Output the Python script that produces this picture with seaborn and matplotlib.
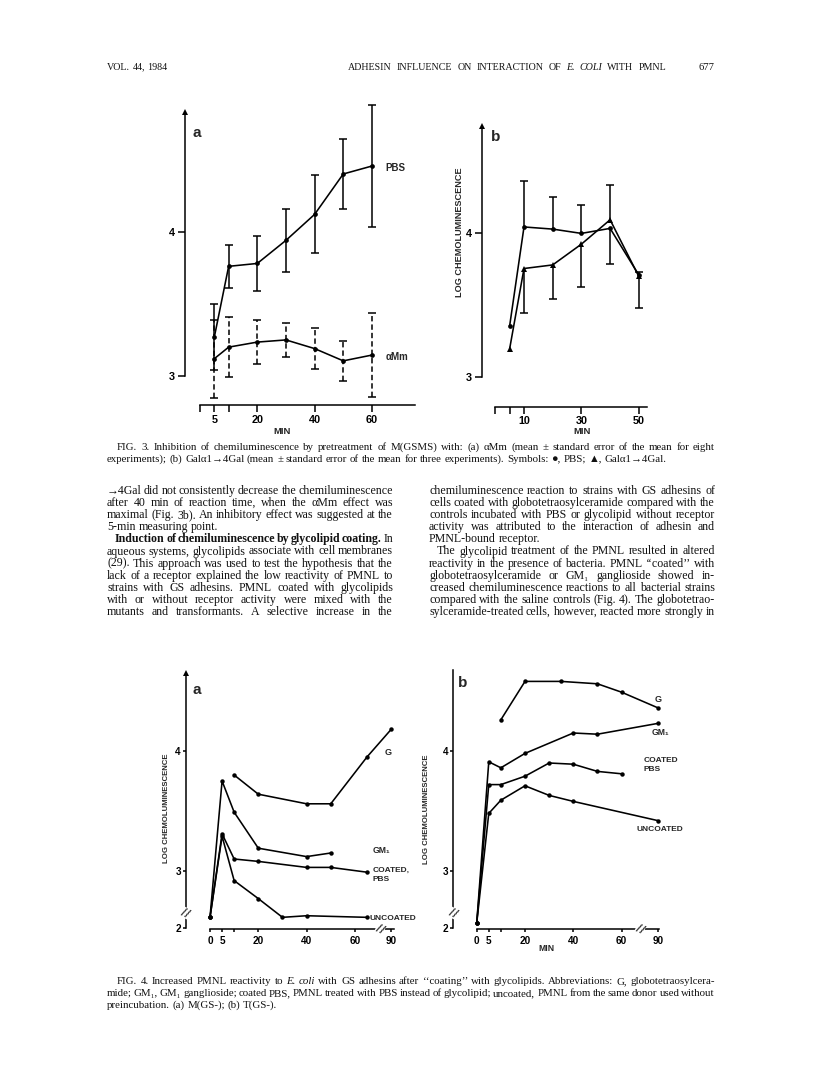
import numpy as np
import pandas as pd
import matplotlib
matplotlib.use("Agg")
import matplotlib.pyplot as plt
import seaborn as sns

# ------------------------------------------------------------------ data
# FIG. 3a  log chemiluminescence (mean +/- SEM), M(GSMS)
f3a_minutes = [5, 10, 20, 30, 40, 50, 60]
f3a_pbs = [3.27, 3.76, 3.78, 3.94, 4.12, 4.40, 4.455]
f3a_pbs_sem = [0.23, 0.15, 0.19, 0.22, 0.27, 0.245, 0.42]
f3a_amm = [3.12, 3.20, 3.235, 3.25, 3.19, 3.105, 3.145]
f3a_amm_sem = [0.27, 0.21, 0.15, 0.115, 0.14, 0.14, 0.29]

# FIG. 3b  (error drawn on one side only, as in the original)
f3b_minutes = [5, 10, 20, 30, 40, 50]
f3b_pbs = [3.355, 4.045, 4.03, 4.00, 4.035, 3.71]
f3b_pbs_err_low = [0, 0, 0, 0, 0.25, 0]
f3b_pbs_err_high = [0, 0.32, 0.225, 0.20, 0, 0.02]
f3b_gal = [3.195, 3.755, 3.78, 3.925, 4.095, 3.70]
f3b_gal_err_low = [0, 0.31, 0.235, 0.30, 0, 0.22]
f3b_gal_err_high = [0, 0, 0, 0, 0.24, 0]

# FIG. 4a  M(GS-)
f4a_g_min = [10, 20, 40, 50, 65, 90]
f4a_g = [3.80, 3.64, 3.56, 3.56, 3.95, 4.18]
f4a_gm1_min = [0, 5, 10, 20, 40, 50]
f4a_gm1 = [2.46, 3.75, 3.49, 3.19, 3.12, 3.15]
f4a_coated_min = [0, 5, 10, 20, 40, 50, 65]
f4a_coated = [2.46, 3.31, 3.10, 3.08, 3.03, 3.03, 2.99]
f4a_uncoated_min = [0, 5, 10, 20, 30, 40, 65]
f4a_uncoated = [2.46, 3.29, 2.92, 2.77, 2.46, 2.53, 2.46]

# FIG. 4b  T(GS-)
f4b_g_min = [10, 20, 35, 50, 60, 90]
f4b_g = [4.26, 4.58, 4.58, 4.56, 4.49, 4.36]
f4b_gm1_min = [0, 5, 10, 20, 40, 50, 90]
f4b_gm1 = [2.20, 3.91, 3.86, 3.98, 4.15, 4.14, 4.23]
f4b_coated_min = [0, 5, 10, 20, 30, 40, 50, 60]
f4b_coated = [2.20, 3.72, 3.72, 3.79, 3.90, 3.89, 3.83, 3.81]
f4b_uncoated_min = [0, 5, 10, 20, 30, 40, 90]
f4b_uncoated = [2.20, 3.48, 3.59, 3.71, 3.63, 3.58, 3.42]

# ticks
f3a_xticks = [0, 5, 10, 20, 40, 60]
f3a_xticklabels = ["", "5", "", "20", "40", "60"]
f3b_xticks = [0, 5, 10, 30, 50]
f3b_xticklabels = ["", "", "10", "30", "50"]
f3_yticks = [3, 4]
f4_xticks = [0, 5, 10, 20, 40, 60, 90]
f4_xticklabels = ["0", "5", "", "20", "40", "60", "90"]
f4_yticks = [2, 3, 4]

# ------------------------------------------------------------------ text
header_left = "VOL. 44, 1984"
header_title = "ADHESIN INFLUENCE ON INTERACTION OF ~E. ~COLI WITH PMNL"
header_page = "677"

fig3_caption = [
    "FIG. 3. Inhibition of chemiluminescence by pretreatment of M(GSMS) with: (a) \u03b1Mm (mean \u00b1 standard error of the mean for eight",
    "experiments); (b) Gal\u03b11\u21924Gal (mean \u00b1 standard error of the mean for three experiments). Symbols: \u25cf, PBS; \u25b2, Gal\u03b11\u21924Gal.",
]
left_col = [
    "\u21924Gal did not consistently decrease the chemiluminescence",
    "after 40 min of reaction time, when the \u03b1Mm effect was",
    "maximal (Fig. 3b). An inhibitory effect was suggested at the",
    "5-min measuring point.",
    "^Induction ^of ^chemiluminescence ^by ^glycolipid ^coating. In",
    "aqueous systems, glycolipids associate with cell membranes",
    "(29). This approach was used to test the hypothesis that the",
    "lack of a receptor explained the low reactivity of PMNL to",
    "strains with GS adhesins. PMNL coated with glycolipids",
    "with or without receptor activity were mixed with the",
    "mutants and transformants. A selective increase in the",
]
right_col = [
    "chemiluminescence reaction to strains with GS adhesins of",
    "cells coated with globotetraosylceramide compared with the",
    "controls incubated with PBS or glycolipid without receptor",
    "activity was attributed to the interaction of adhesin and",
    "PMNL-bound receptor.",
    "The glycolipid treatment of the PMNL resulted in altered",
    "reactivity in the presence of bacteria. PMNL \u2018\u2018coated\u2019\u2019 with",
    "globotetraosylceramide or GM\u2081 ganglioside showed in-",
    "creased chemiluminescence reactions to all bacterial strains",
    "compared with the saline controls (Fig. 4). The globotetrao-",
    "sylceramide-treated cells, however, reacted more strongly in",
]
fig4_caption = [
    "FIG. 4. Increased PMNL reactivity to ~E. ~coli with GS adhesins after \u2018\u2018coating\u2019\u2019 with glycolipids. Abbreviations: G, globotetraosylcera-",
    "mide; GM\u2081, GM\u2081 ganglioside; coated PBS, PMNL treated with PBS instead of glycolipid; uncoated, PMNL from the same donor used without",
    "preincubation. (a) M(GS-); (b) T(GS-).",
]

# ------------------------------------------------------------------ setup
W, H = 816, 1077
SANS = ["Liberation Sans", "DejaVu Sans"]
SERIF = ["Liberation Serif", "DejaVu Serif"]

sns.set_theme(style="ticks")
plt.rcParams["font.family"] = SERIF
plt.rcParams["axes.linewidth"] = 1.1

fig = plt.figure(figsize=(W / 100, H / 100), dpi=100)
fig.patch.set_facecolor("white")
renderer = fig.canvas.get_renderer()

# broken-axis scales for FIG. 4
Y_BRK, Y_K = 2.65, 0.19
X_BRK, X_K = 67.5, 1.0 / 3.0


def y_fwd(v):
    v = np.asarray(v, float)
    return np.where(v >= Y_BRK, v, Y_BRK - (Y_BRK - v) * Y_K)


def y_inv(d):
    d = np.asarray(d, float)
    return np.where(d >= Y_BRK, d, Y_BRK - (Y_BRK - d) / Y_K)


def x_fwd(v):
    v = np.asarray(v, float)
    return np.where(v <= X_BRK, v, X_BRK + (v - X_BRK) * X_K)


def x_inv(d):
    d = np.asarray(d, float)
    return np.where(d <= X_BRK, d, X_BRK + (d - X_BRK) / X_K)


def make_panel(L, R, T, B, x0_px, x_ppu, y3_px, y_ppu, xfun=None, yfun=None):
    ax = fig.add_axes([L / W, 1 - B / H, (R - L) / W, (B - T) / H])
    ax.patch.set_alpha(0)
    if xfun is not None:
        ax.set_xscale("function", functions=xfun)
    if yfun is not None:
        ax.set_yscale("function", functions=yfun)
    xi = xfun[1] if xfun is not None else (lambda v: np.asarray(v, float))
    yi = yfun[1] if yfun is not None else (lambda v: np.asarray(v, float))

    def px_x(px):
        return float(np.ravel(xi(np.array([(px - x0_px) / x_ppu])))[0])

    def px_y(py):
        return float(np.ravel(yi(np.array([3 + (y3_px - py) / y_ppu])))[0])

    lims = ((px_x(L), px_x(R)), (px_y(B), px_y(T)))
    return ax, px_x, px_y, lims


def draw_series(ax, xs, ys, marker="o", ms=3.4):
    df = pd.DataFrame({"minutes": xs, "value": ys})
    sns.lineplot(data=df, x="minutes", y="value", ax=ax, color="black",
                 linewidth=1.15, marker=marker, markersize=ms,
                 markeredgewidth=0, estimator=None, sort=False, errorbar=None)


def draw_err(ax, xs, ys, lo, hi, ls="-"):
    xs = np.asarray(xs, float)
    ys = np.asarray(ys, float)
    lo = np.asarray(lo, float)
    hi = np.asarray(hi, float)
    m = (lo > 0) | (hi > 0)
    ax.vlines(xs[m], (ys - lo)[m], (ys + hi)[m], colors="black",
              linewidth=1.1, linestyles=ls)
    for sel, yy in ((lo > 0, ys - lo), (hi > 0, ys + hi)):
        ax.plot(xs[sel], yy[sel], ls="none", marker="_", ms=5.5, mew=1.1,
                color="black", clip_on=False)


def style_axes(ax, lims, xspine_y, xbounds, yspine_x, ybounds, xticks, xlabels,
               yticks, ticklen, labsize=8, arrow=True, ypad=2):
    ax.set_xlabel("")
    ax.set_ylabel("")
    ax.set_xlim(*lims[0])
    ax.set_ylim(*lims[1])
    for s in ("top", "right"):
        ax.spines[s].set_visible(False)
    ax.spines["left"].set_position(("data", yspine_x))
    ax.spines["left"].set_bounds(*ybounds)
    ax.spines["bottom"].set_position(("data", xspine_y))
    ax.spines["bottom"].set_bounds(*xbounds)
    for s in ("left", "bottom"):
        ax.spines[s].set_linewidth(1.1)
        ax.spines[s].set_color("black")
    ax.set_xticks(xticks)
    ax.set_xticklabels(xlabels)
    ax.set_yticks(yticks)
    ax.set_yticklabels([str(t) for t in yticks])
    ax.minorticks_off()
    ax.tick_params(axis="both", direction="out", width=1.1, colors="black",
                   length=ticklen, pad=2, labelsize=labsize)
    ax.tick_params(axis="y", pad=ypad)
    for lbl in ax.get_xticklabels() + ax.get_yticklabels():
        lbl.set_fontfamily(SANS)
        lbl.set_fontweight("bold")
    if arrow:
        ax.plot([yspine_x], [ybounds[1]], marker="^", ms=5, color="black",
                mew=0, clip_on=False)


def ptext(x, y, s, size=7.0, ha="center", rot=0, weight="bold"):
    fig.text(x / W, 1 - y / H, s, ha=ha, va="center", fontsize=size,
             family=SANS, fontweight=weight, rotation=rot)


def brk(ax, x, y):
    ax.text(x, y, "//", ha="center", va="center", fontsize=8,
            family="DejaVu Sans", fontweight="bold", rotation=-25,
            bbox=dict(facecolor="white", edgecolor="none", pad=0.2),
            clip_on=False, zorder=5)


# ------------------------------------------------------------------ FIG 3a
ax, px_x, px_y, lims = make_panel(165, 430, 100, 415, 200, 2.865, 376, 144.3)
draw_err(ax, f3a_minutes, f3a_amm, f3a_amm_sem, f3a_amm_sem, ls=(0, (3.5, 2)))
draw_err(ax, f3a_minutes, f3a_pbs, f3a_pbs_sem, f3a_pbs_sem)
draw_series(ax, f3a_minutes, f3a_pbs)
draw_series(ax, f3a_minutes, f3a_amm)
style_axes(ax, lims, px_y(405), (0, px_x(415)), px_x(185), (3, px_y(112)),
           f3a_xticks, f3a_xticklabels, f3_yticks, 5, labsize=7.8)
ptext(196.7, 133, "a", size=11)
ptext(385, 168.3, "PBS", ha="left", size=7)
ptext(386, 356.7, "\u03b1Mm", ha="left", size=7)
ptext(281.7, 431.7, "MIN", size=6.8)

# ------------------------------------------------------------------ FIG 3b
ax, px_x, px_y, lims = make_panel(470, 665, 115, 415, 495.3, 2.87, 376.7, 143.3)
draw_err(ax, f3b_minutes, f3b_pbs, f3b_pbs_err_low, f3b_pbs_err_high)
draw_err(ax, f3b_minutes, f3b_gal, f3b_gal_err_low, f3b_gal_err_high)
draw_series(ax, f3b_minutes, f3b_pbs)
draw_series(ax, f3b_minutes, f3b_gal, marker="^", ms=4.2)
style_axes(ax, lims, px_y(406.7), (0, px_x(647.3)), px_x(481.7), (3, px_y(126)),
           f3b_xticks, f3b_xticklabels, f3_yticks, 5, labsize=7.8)
ptext(495.7, 136.7, "b", size=11)
ptext(581.7, 431.7, "MIN", size=6.8)
ptext(459.3, 231.7, "LOG CHEMOLUMINESCENCE", size=6.6, rot=90)

# ------------------------------------------------------------------ FIG 4a
ax, px_x, px_y, lims = make_panel(165, 420, 660, 945, 210, 2.415, 871, 120,
                                  xfun=(x_fwd, x_inv), yfun=(y_fwd, y_inv))
for xs, ys in ((f4a_g_min, f4a_g), (f4a_gm1_min, f4a_gm1),
               (f4a_coated_min, f4a_coated), (f4a_uncoated_min, f4a_uncoated)):
    draw_series(ax, xs, ys, ms=3.2)
style_axes(ax, lims, px_y(929.3), (0, px_x(394)), px_x(185.7), (2, px_y(673.3)),
           f4_xticks, f4_xticklabels, f4_yticks, 2.5, labsize=7.2, ypad=1)
brk(ax, px_x(185.7), px_y(913))
brk(ax, px_x(380), px_y(929.3))
ptext(196.7, 690, "a", size=11)
ptext(385, 752.7, "G", size=6.5, ha="left")
ptext(372.7, 850.7, "GM\u2081", size=6.2, ha="left")
ptext(372.7, 870, "COATED,", size=6.0, ha="left")
ptext(372.7, 879.5, "PBS", size=6.0, ha="left")
ptext(370, 918.3, "UNCOATED", size=6.0, ha="left")
ptext(167, 808, "LOG CHEMOLUMINESCENCE", size=5.6, rot=90)

# ------------------------------------------------------------------ FIG 4b
ax, px_x, px_y, lims = make_panel(435, 690, 660, 945, 476.7, 2.415, 871, 120,
                                  xfun=(x_fwd, x_inv), yfun=(y_fwd, y_inv))
for xs, ys in ((f4b_g_min, f4b_g), (f4b_gm1_min, f4b_gm1),
               (f4b_coated_min, f4b_coated), (f4b_uncoated_min, f4b_uncoated)):
    draw_series(ax, xs, ys, ms=3.2)
style_axes(ax, lims, px_y(929.3), (0, px_x(659)), px_x(453), (2, px_y(670)),
           f4_xticks, f4_xticklabels, f4_yticks, 2.5, labsize=7.2, arrow=False,
           ypad=1)
brk(ax, px_x(453), px_y(913))
brk(ax, px_x(640), px_y(929.3))
ptext(462.3, 683.3, "b", size=11)
ptext(657.7, 700, "G", size=6.5)
ptext(652, 732.7, "GM\u2081", size=6.2, ha="left")
ptext(643.3, 760, "COATED", size=6.0, ha="left")
ptext(643.3, 769.5, "PBS", size=6.0, ha="left")
ptext(636.7, 829.3, "UNCOATED", size=6.0, ha="left")
ptext(546, 948.3, "MIN", size=6.2)
ptext(426.7, 809, "LOG CHEMOLUMINESCENCE", size=5.6, rot=90)

# ------------------------------------------------------------------ page text
_space = {}


def space_w(size):
    if size not in _space:
        a = fig.text(0, 0, "x x", fontsize=size, family=SERIF)
        b = fig.text(0, 0, "xx", fontsize=size, family=SERIF)
        _space[size] = (a.get_window_extent(renderer).width
                        - b.get_window_extent(renderer).width)
        a.remove()
        b.remove()
    return _space[size]


def text_line(s, x0, x1, y, size, justify=True, align="left"):
    arts = []
    for tok in s.split(" "):
        kw = {}
        if tok.startswith("^"):
            tok = tok[1:]
            kw["fontweight"] = "bold"
        elif tok.startswith("~"):
            tok = tok[1:]
            kw["fontstyle"] = "italic"
        arts.append(fig.text(0, 1 - y / H, tok, fontsize=size, family=SERIF,
                             ha="left", va="baseline", color="#111111", **kw))
    ws = [a.get_window_extent(renderer).width for a in arts]
    if justify and len(arts) > 1:
        gap = (x1 - x0 - sum(ws)) / (len(arts) - 1)
    else:
        gap = space_w(size)
    x = x0
    if align == "right":
        x = x1 - (sum(ws) + gap * (len(arts) - 1))
    for a, w in zip(arts, ws):
        a.set_x(x / W)
        x += w + gap


# header
text_line(header_left, 107, 200, 69.5, 7.2, justify=False)
text_line(header_title, 348, 666, 69.5, 7.2, justify=True)
text_line(header_page, 600, 714, 69.5, 7.6, justify=False, align="right")

# FIG. 3 caption
CAP = 7.8
text_line(fig3_caption[0], 117, 715, 450, CAP)
text_line(fig3_caption[1], 107, 715, 462, CAP, justify=False)

# body columns
BODY = 8.55
LEAD = 12.1
for i, s in enumerate(left_col):
    x0 = 115 if i == 4 else 107
    text_line(s, x0, 393, 494 + LEAD * i, BODY, justify=(i != 3))
for i, s in enumerate(right_col):
    x0 = 437 if i == 5 else 429
    text_line(s, x0, 715, 494 + LEAD * i, BODY, justify=(i != 4))

# FIG. 4 caption
text_line(fig4_caption[0], 117, 715, 984, CAP)
text_line(fig4_caption[1], 107, 715, 996, CAP)
text_line(fig4_caption[2], 107, 715, 1008, CAP, justify=False)

fig.savefig("out.png", dpi=100, facecolor="white")
